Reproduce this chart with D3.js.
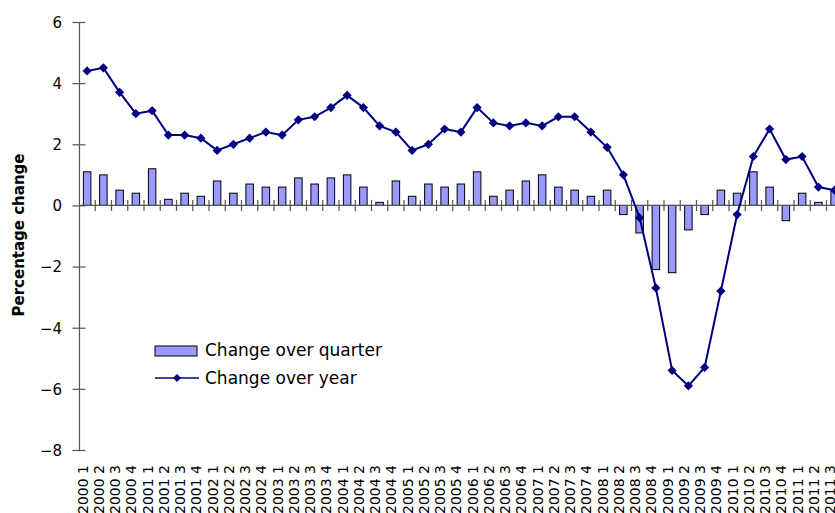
<!DOCTYPE html>
<html>
<head>
<meta charset="utf-8">
<script src="https://cdn.jsdelivr.net/npm/d3@7"></script>
<style>
	body { margin:0; background:#fff; }
	svg { display:block; }
	.tick-label { font-family:"DejaVu Sans", sans-serif; fill:#000; }
	.legend-label { font-family:"DejaVu Sans", sans-serif; font-size:17px; fill:#000; }
</style>
</head>
<body>
<div id="chart"></div>
<script>
////////////////////////////////////////////////////
var quarters = [
	"2000 1","2000 2","2000 3","2000 4",
	"2001 1","2001 2","2001 3","2001 4",
	"2002 1","2002 2","2002 3","2002 4",
	"2003 1","2003 2","2003 3","2003 4",
	"2004 1","2004 2","2004 3","2004 4",
	"2005 1","2005 2","2005 3","2005 4",
	"2006 1","2006 2","2006 3","2006 4",
	"2007 1","2007 2","2007 3","2007 4",
	"2008 1","2008 2","2008 3","2008 4",
	"2009 1","2009 2","2009 3","2009 4",
	"2010 1","2010 2","2010 3","2010 4",
	"2011 1","2011 2","2011 3"
];
var overQuarter = [
	1.1, 1.0, 0.5, 0.4,
	1.2, 0.2, 0.4, 0.3,
	0.8, 0.4, 0.7, 0.6,
	0.6, 0.9, 0.7, 0.9,
	1.0, 0.6, 0.1, 0.8,
	0.3, 0.7, 0.6, 0.7,
	1.1, 0.3, 0.5, 0.8,
	1.0, 0.6, 0.5, 0.3,
	0.5, -0.3, -0.9, -2.1,
	-2.2, -0.8, -0.3, 0.5,
	0.4, 1.1, 0.6, -0.5,
	0.4, 0.1, 0.5
];
var overYear = [
	4.4, 4.5, 3.7, 3.0,
	3.1, 2.3, 2.3, 2.2,
	1.8, 2.0, 2.2, 2.4,
	2.3, 2.8, 2.9, 3.2,
	3.6, 3.2, 2.6, 2.4,
	1.8, 2.0, 2.5, 2.4,
	3.2, 2.7, 2.6, 2.7,
	2.6, 2.9, 2.9, 2.4,
	1.9, 1.0, -0.4, -2.7,
	-5.4, -5.9, -5.3, -2.8,
	-0.3, 1.6, 2.5, 1.5,
	1.6, 0.6, 0.5
];
var yTicks = [-8, -6, -4, -2, 0, 2, 4, 6];
var seriesNames = ["Change over quarter", "Change over year"];

////////////////////////////////////////////////////
var totalW = 835;
var totalH = 513;
var leftX = 79;
var bandW = 16.25;
var topY = 22;
var bottomY = 450;
var barW = 7.5;
var axisColor = "#555";

var chart = d3.select("#chart").append("svg")
	.attr("width", totalW)
	.attr("height", totalH);

var x = d3.scaleBand()
	.domain(quarters)
	.range([leftX, leftX + quarters.length*bandW])
	.padding(0);
var y = d3.scaleLinear()
	.domain([-8, 6])
	.range([bottomY, topY]);
var xc = function(d) { return x(d) + x.bandwidth()/2; };

/////////// BARS
chart.selectAll("rect.bar")
	.data(overQuarter)
	.enter().append("rect")
		.attr("class", "bar")
		.attr("x", function(d,i){ return xc(quarters[i]) - barW/2; })
		.attr("y", function(d){ return y(Math.max(d,0)); })
		.attr("width", barW)
		.attr("height", function(d){ return Math.abs(y(d) - y(0)); })
		.attr("fill", "#9999ff")
		.attr("stroke", "#000")
		.attr("stroke-width", 1);

/////////// Y AXIS
var yAxis = d3.axisLeft(y)
	.tickValues(yTicks)
	.tickSize(0)
	.tickPadding(17)
	.tickFormat(d3.format("d"));
var gy = chart.append("g")
	.attr("transform", "translate(" + leftX + ",0)")
	.call(yAxis);
gy.select(".domain").attr("stroke", axisColor).attr("stroke-width", 1.2);
gy.selectAll(".tick text")
	.attr("class", "tick-label")
	.style("font-size", "15px")
	.attr("font-family", null)
	.attr("dy", "0.36em");
gy.selectAll(".tick").append("line")
	.attr("x1", -6.5).attr("x2", 6.5)
	.attr("stroke", axisColor).attr("stroke-width", 1.2);

/////////// X AXIS (crosses at zero)
var y0 = y(0);
var xEnd = leftX + quarters.length*bandW;
chart.append("line")
	.attr("x1", leftX).attr("x2", xEnd)
	.attr("y1", y0).attr("y2", y0)
	.attr("stroke", axisColor).attr("stroke-width", 1.2);
chart.selectAll("line.xtick")
	.data(quarters)
	.enter().append("line")
		.attr("class", "xtick")
		.attr("x1", function(d){ return x(d) + bandW; })
		.attr("x2", function(d){ return x(d) + bandW; })
		.attr("y1", y0 - 5.5)
		.attr("y2", y0 + 5.5)
		.attr("stroke", axisColor).attr("stroke-width", 1.2);

/////////// CATEGORY LABELS (below the plot, cut by the bottom edge as in the source)
chart.selectAll("text.xlabel")
	.data(quarters)
	.enter().append("text")
		.attr("class", "tick-label")
		.style("font-size", "14px")
		.attr("text-anchor", "end")
		.attr("transform", function(d){ return "translate(" + (xc(d) + 0.5) + ",465) rotate(-90)"; })
		.text(function(d){ return d; });

/////////// Y TITLE
chart.append("text")
	.attr("transform", "translate(24,235) rotate(-90)")
	.attr("text-anchor", "middle")
	.style("font-family", "'DejaVu Sans', sans-serif")
	.style("font-size", "15px")
	.style("font-weight", "bold")
	.text("Percentage change");

/////////// LINE
var line = d3.line()
	.x(function(d,i){ return xc(quarters[i]); })
	.y(function(d){ return y(d); });
chart.append("path")
	.datum(overYear)
	.attr("d", line)
	.attr("fill", "none")
	.attr("stroke", "#000080")
	.attr("stroke-width", 2);
var diamond = "M0,-4.6L4.6,0L0,4.6L-4.6,0Z";
chart.selectAll("path.pt")
	.data(overYear)
	.enter().append("path")
		.attr("class", "pt")
		.attr("d", diamond)
		.attr("transform", function(d,i){ return "translate(" + xc(quarters[i]) + "," + y(d) + ")"; })
		.attr("fill", "#000080");

/////////// LEGEND
var lg = chart.append("g").attr("transform", "translate(155,346)");
lg.append("rect")
	.attr("x", 0).attr("y", 0)
	.attr("width", 42).attr("height", 10)
	.attr("fill", "#9999ff")
	.attr("stroke", "#000")
	.attr("stroke-width", 1);
lg.append("text")
	.attr("class", "legend-label")
	.attr("x", 50).attr("y", 10)
	.text(seriesNames[0]);
lg.append("line")
	.attr("x1", 0).attr("x2", 44)
	.attr("y1", 32).attr("y2", 32)
	.attr("stroke", "#000080").attr("stroke-width", 1.5);
lg.append("path")
	.attr("d", "M0,-4L4,0L0,4L-4,0Z")
	.attr("transform", "translate(22,32)")
	.attr("fill", "#000080");
lg.append("text")
	.attr("class", "legend-label")
	.attr("x", 50).attr("y", 38)
	.text(seriesNames[1]);
////////////////////////////////////////////////////
</script>
</body>
</html>
